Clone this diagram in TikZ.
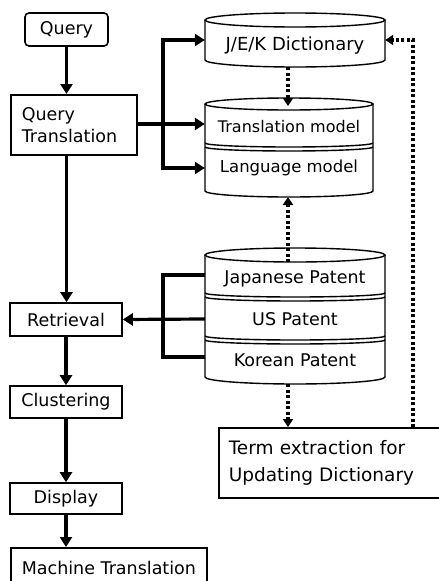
\documentclass[tikz,border=0pt]{standalone}
\usepackage{fontspec}
\setmainfont{DejaVu Sans}
\usetikzlibrary{arrows.meta, positioning}
\tikzset{
	box/.style = {draw, line width=1.6pt, inner xsep=11pt, inner ysep=2pt, font=\fontsize{17.5}{22}\selectfont},
	dbtext/.style = {inner sep=0pt, minimum height=20pt, font=\fontsize{17.5}{20}\selectfont},
	dbline/.style = {draw, line width=1.4pt},
	link/.style = {line width=3.2pt},
	flow/.style = {link, -{Triangle[length=10pt,width=12pt]}},
	dots/.style = {line width=3.4pt, dash pattern=on 3pt off 2.5pt, -{Triangle[length=8pt,width=10pt]}},
}
\begin{document}
\begin{tikzpicture}[x=1pt, y=-1pt]
\useasboundingbox (0,0) rectangle (439,581);

% left column
\node[box, rounded corners=4pt, minimum width=83pt, minimum height=33pt] (query) at (66.5,29.5) {Query};
\node[box, anchor=north west, minimum width=126pt, minimum height=60pt, text width=104pt, align=left] (qtrans) at (10,94) {Query\\Translation};
\node[box, minimum width=112pt, minimum height=33pt] (retr) at (66,319.5) {Retrieval};
\node[box, minimum width=112pt, minimum height=32pt] (clus) at (66,402) {Clustering};
\node[box, minimum width=112pt, minimum height=31pt] (disp) at (66,498.5) {Display};
\node[box, anchor=north west, minimum width=193pt, minimum height=40pt] (mt) at (10,547) {Machine Translation};
\node[box, anchor=north west, minimum width=250pt, minimum height=70pt, inner xsep=10pt, text width=230pt, align=left, font=\fontsize{18.5}{27}\selectfont] (term) at (218,427) {Term extraction for\\Updating Dictionary};

% dictionary
\draw[dbline, fill=white] (205,20) -- (205,60) arc[start angle=180, end angle=0, x radius=90, y radius=7] -- (385,20);
\draw[dbline] (295,20) ellipse[x radius=90, y radius=7];
\node[dbtext, minimum width=180pt, font=\fontsize{18}{20}\selectfont] (jek) at (295,46) {J/E/K Dictionary};

% models
\draw[dbline] (205,104) -- (205,191) arc[start angle=180, end angle=0, x radius=84, y radius=6] -- (373,104);
\draw[dbline] (289,104) ellipse[x radius=84, y radius=6];
\draw[dbline] (205,143) arc[start angle=180, end angle=0, x radius=84, y radius=4];
\draw[dbline] (205,147) arc[start angle=180, end angle=0, x radius=84, y radius=4];
\node[dbtext, minimum width=168pt, font=\fontsize{16}{20}\selectfont] (tm) at (289,127) {Translation model};
\node[dbtext, minimum width=168pt, font=\fontsize{16.5}{20}\selectfont] (lm) at (289,168) {Language model};

% patents
\draw[dbline] (205,255) -- (205,377) arc[start angle=180, end angle=0, x radius=90, y radius=7] -- (385,255);
\draw[dbline] (295,255) ellipse[x radius=90, y radius=7];
\foreach \yy in {293,297,336,340}
	\draw[dbline] (205,\yy) arc[start angle=180, end angle=0, x radius=90, y radius=4];
\node[dbtext, minimum width=180pt] (jp) at (295,279) {Japanese Patent};
\node[dbtext, minimum width=180pt] (us) at (295,319) {US Patent};
\node[dbtext, minimum width=180pt] (kr) at (295,360) {Korean Patent};

\coordinate (fork) at (163,124);
\coordinate (join) at (163,319);
\coordinate (jekbot) at (288,67);
\coordinate (tmtop) at (288,106);
\coordinate (lmbot) at (288,197);
\coordinate (jptop) at (288,262);
\coordinate (krbot) at (288,384);
\coordinate (turn) at (413,40);

% solid flow
\draw[flow] (query) -- (query |- qtrans.north);
\draw[flow] (query |- qtrans.south) -- (query |- retr.north);
\draw[flow] (retr) -- (clus);
\draw[flow] (clus) -- (disp);
\draw[flow] (disp) -- (disp |- mt.north);
\draw[link] (qtrans.east |- fork) -- (fork);
\draw[flow] (fork) |- ([yshift=6pt]jek.west);
\draw[flow] (fork) -- (fork -| tm.west);
\draw[flow] (fork) |- (lm.west);
\draw[link] ([yshift=4pt]jp.west) -| (join) |- ([yshift=3pt]kr.west);
\draw[flow] (us.west) -- (retr.east);

% dotted flow
\draw[dots] (jekbot) -- (tmtop);
\draw[dots] (jptop) -- (lmbot);
\draw[dots] (krbot) -- (krbot |- term.north);
\draw[dots] (turn |- term.north) -- (turn) -- (jek.east |- turn);
\end{tikzpicture}
\end{document}
